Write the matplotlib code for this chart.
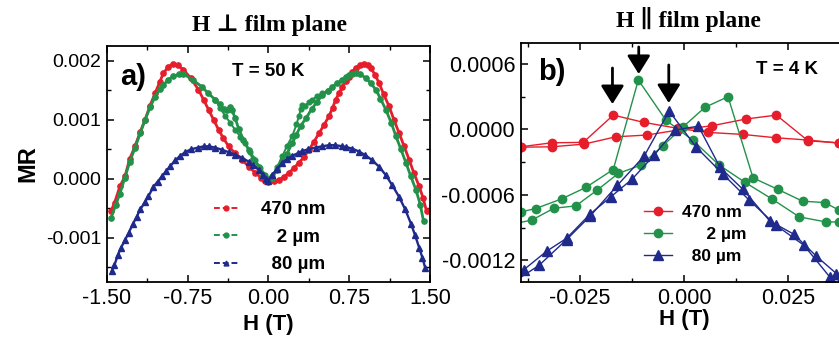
import matplotlib
matplotlib.use("Agg")
import matplotlib.pyplot as plt
from matplotlib.ticker import MultipleLocator, FormatStrFormatter

plt.rcParams["font.family"] = ["Liberation Sans", "DejaVu Sans"]
plt.rcParams["axes.unicode_minus"] = False

RED = "#e61e2c"
GREEN = "#22924a"
BLUE = "#1f2a8c"

# ---- panel a: H perpendicular, T = 50 K  (H in T, MR in units of 1e-3)
h_470 = [-1.463, -1.43, -1.38, -1.333, -1.29, -1.24, -1.19, -1.146, -1.10, -1.053,
         -1.01, -0.976, -0.93, -0.883, -0.84, -0.79, -0.72, -0.65, -0.60, -0.556,
         -0.51, -0.463, -0.42, -0.37, -0.31, -0.245, -0.18, -0.121, -0.07, -0.028,
         0.0, 0.05, 0.096, 0.14, 0.19, 0.235, 0.282, 0.33, 0.376, 0.42,
         0.469, 0.515, 0.562, 0.595, 0.624, 0.655, 0.687, 0.718, 0.748, 0.78,
         0.81, 0.85, 0.888, 0.92, 0.95, 0.99, 1.028, 1.07, 1.12, 1.165,
         1.214, 1.26, 1.307, 1.35, 1.40, 1.435, 1.468]
mr_470 = [-0.55, -0.41, -0.13, 0.04, 0.33, 0.55, 0.80, 1.00, 1.24, 1.45,
          1.64, 1.79, 1.90, 1.95, 1.92, 1.85, 1.70, 1.51, 1.33, 1.17,
          1.00, 0.83, 0.69, 0.55, 0.43, 0.32, 0.20, 0.10, 0.02, -0.04,
          -0.05, -0.04, -0.02, 0.03, 0.10, 0.18, 0.27, 0.37, 0.49, 0.62,
          0.77, 0.91, 1.06, 1.20, 1.34, 1.45, 1.56, 1.65, 1.72, 1.81,
          1.88, 1.93, 1.95, 1.93, 1.88, 1.76, 1.62, 1.43, 1.23, 1.00,
          0.77, 0.55, 0.32, 0.10, -0.13, -0.32, -0.55]

h_2um_a = [-1.463, -1.42, -1.38, -1.333, -1.29, -1.24, -1.19, -1.146, -1.10, -1.053,
           -1.01, -0.976, -0.93, -0.883, -0.83, -0.79, -0.70, -0.618, -0.56, -0.494,
           -0.45, -0.417, -0.385, -0.36, -0.34, -0.31, -0.277, -0.233, -0.184, -0.14,
           -0.09, -0.047, -0.012, 0.034, 0.08, 0.128, 0.17, 0.22, 0.26, 0.30,
           0.35, 0.40, 0.45, 0.50, 0.55, 0.594, 0.64, 0.687, 0.718, 0.748,
           0.78, 0.81, 0.85, 0.904, 0.95, 0.997, 1.04, 1.09, 1.14, 1.184,
           1.23, 1.277, 1.32, 1.37, 1.41, 1.44]
mr_2um_a = [-0.67, -0.45, -0.25, 0.02, 0.28, 0.52, 0.78, 1.00, 1.21, 1.39,
            1.52, 1.59, 1.68, 1.74, 1.77, 1.78, 1.67, 1.56, 1.45, 1.34,
            1.26, 1.19, 1.17, 1.21, 1.17, 1.03, 0.85, 0.66, 0.49, 0.33,
            0.20, 0.06, 0.00, 0.02, 0.15, 0.30, 0.42, 0.60, 0.75, 0.90,
            1.03, 1.18, 1.30, 1.42, 1.49, 1.56, 1.62, 1.68, 1.72, 1.76,
            1.78, 1.79, 1.77, 1.71, 1.62, 1.51, 1.36, 1.17, 0.95, 0.72,
            0.50, 0.27, 0.05, -0.19, -0.44, -0.72]

h_2um_b = [-0.494, -0.45, -0.40, -0.355, -0.31, -0.26, -0.214, -0.17, -0.121, -0.075,
           -0.028, 0.0, 0.034, 0.08, 0.128, 0.17, 0.22, 0.26, 0.282, 0.30,
           0.314, 0.34, 0.376, 0.407, 0.45, 0.50, 0.55]
mr_2um_b = [1.34, 1.20, 1.06, 0.95, 0.83, 0.71, 0.60, 0.46, 0.32, 0.18,
            0.07, 0.00, 0.04, 0.20, 0.38, 0.55, 0.72, 0.92, 1.06, 1.18,
            1.25, 1.24, 1.30, 1.34, 1.40, 1.45, 1.49]

h_80um = [-1.457, -1.432, -1.40, -1.37, -1.333, -1.30, -1.26, -1.224, -1.19, -1.15,
          -1.116, -1.07, -1.03, -0.99, -0.95, -0.91, -0.867, -0.82, -0.774, -0.72,
          -0.65, -0.60, -0.556, -0.50, -0.43, -0.37, -0.31, -0.25, -0.184, -0.14,
          -0.09, -0.05, -0.02, 0.0, 0.034, 0.08, 0.128, 0.17, 0.22, 0.27,
          0.314, 0.37, 0.438, 0.50, 0.562, 0.62, 0.687, 0.718, 0.78, 0.842,
          0.90, 0.966, 1.03, 1.09, 1.15, 1.214, 1.27, 1.323, 1.36, 1.40,
          1.43, 1.457]
mr_80um = [-1.57, -1.47, -1.30, -1.17, -1.04, -0.92, -0.77, -0.64, -0.52, -0.40,
           -0.30, -0.14, -0.05, 0.04, 0.13, 0.22, 0.31, 0.39, 0.45, 0.50,
           0.53, 0.55, 0.55, 0.53, 0.49, 0.45, 0.41, 0.36, 0.29, 0.23,
           0.15, 0.07, 0.00, -0.03, 0.06, 0.17, 0.27, 0.33, 0.39, 0.43,
           0.47, 0.50, 0.53, 0.55, 0.57, 0.57, 0.55, 0.54, 0.51, 0.46,
           0.40, 0.31, 0.20, 0.06, -0.11, -0.31, -0.52, -0.76, -0.95, -1.17,
           -1.34, -1.52]

# ---- panel b: H parallel, T = 4 K  (H in mT, MR in units of 1e-4)
h_470_dn = [37.1, 29.7, 22.0, 14.0, 5.75, -1.44, -9.66, -17.0, -24.2, -31.8, -39.2]
mr_470_dn = [-1.26, -0.98, -0.77, -0.46, -0.28, 0.09, 0.64, 1.31, -1.19, -1.23, -1.60]
h_470_up = [-39.2, -31.8, -24.0, -16.4, -9.0, -1.5, 6.6, 14.8, 22.1, 29.7, 37.1]
mr_470_up = [-1.63, -1.60, -1.35, -0.68, -0.52, -0.06, 0.33, 0.95, 1.31, -1.05, -1.23]

h_2um_up = [-41.5, -36.6, -31.2, -26.0, -20.9, -15.8, -10.4, -5.2, -0.24, 4.96,
            10.5, 16.5, 22.5, 28.4, 33.7, 37.1]
mr_2um_up = [-8.7, -8.33, -7.23, -7.02, -5.58, -4.04, -3.28, -1.53, 0.24, 2.02,
             3.0, -4.45, -5.51, -6.59, -6.71, -7.41]
h_2um_dn = [37.1, 34.0, 27.6, 21.1, 14.5, 8.4, 2.0, -4.4, -11.0, -17.0,
            -23.6, -29.4, -35.6, -39.2]
mr_2um_dn = [-8.49, -8.49, -8.03, -6.40, -4.84, -3.28, -0.98, 0.85, 4.53, -3.68,
             -5.33, -6.38, -7.26, -7.57]

h_80um_dn = [37.5, 34.9, 28.7, 22.0, 15.6, 9.3, 2.8, -3.6, -9.6, -16.0,
             -22.6, -28.2, -34.8, -40.5]
mr_80um_dn = [-13.9, -13.54, -10.63, -8.79, -6.50, -4.11, -1.60, 1.68, -2.45, -5.12,
              -7.97, -10.11, -12.47, -13.9]
h_80um_up = [-38.4, -33.0, -28.2, -22.6, -17.6, -12.5, -7.2, -2.2, 3.4, 8.6,
             14.1, 20.5, 26.3, 31.7, 36.5]
mr_80um_up = [-12.86, -11.18, -9.99, -7.78, -6.19, -4.57, -2.36, -0.06, 0.30, -3.49,
              -5.51, -8.40, -9.62, -11.64, -13.23]

# arrows above the peaks in b), H in mT
arrow_h = [-17.2, -10.9, -3.7]
arrow_top = [5.63, 7.56, 5.91]
arrow_tip = [2.32, 5.08, 2.42]


def style_axes(ax, xsize, ysize):
    for sp in ax.spines.values():
        sp.set_linewidth(1.3)
    ax.tick_params(which="both", direction="in", top=True, right=True, pad=4)
    ax.tick_params(axis="x", labelsize=xsize)
    ax.tick_params(axis="y", labelsize=ysize)
    ax.tick_params(which="major", length=5, width=1.1)
    ax.tick_params(which="minor", length=3, width=1.0)


fig = plt.figure(figsize=(8.39, 3.44), dpi=100)

# ---------------- panel a
ax1 = fig.add_axes([0.1275, 0.1802, 0.385, 0.686])
k = 1e-3
dash = (0, (3, 1.5))
ax1.plot(h_470, [v * k for v in mr_470], color=RED, lw=2.0, marker="o", ms=3.8,
         label="470 nm")
ax1.plot(h_2um_a, [v * k for v in mr_2um_a], color=GREEN, lw=2.0, marker="o", ms=3.8,
         label="   2 \u00b5m")
ax1.plot(h_2um_b, [v * k for v in mr_2um_b], color=GREEN, lw=1.4, marker="o", ms=3.4)
ax1.plot(h_80um, [v * k for v in mr_80um], color=BLUE, lw=1.7, marker="^", ms=3.8,
         label="  80 \u00b5m")

ax1.set_xlim(-1.5, 1.5)
ax1.set_ylim(-0.00175, 0.00225)
ax1.xaxis.set_major_locator(MultipleLocator(0.75))
ax1.xaxis.set_minor_locator(MultipleLocator(0.375))
ax1.yaxis.set_major_locator(MultipleLocator(0.001))
ax1.yaxis.set_minor_locator(MultipleLocator(0.0005))
ax1.xaxis.set_major_formatter(FormatStrFormatter("%.2f"))
ax1.yaxis.set_major_formatter(FormatStrFormatter("%.3f"))
style_axes(ax1, 15.5, 14)
ax1.set_xlabel("H (T)", fontsize=16, fontweight="bold", labelpad=4)
ax1.set_ylabel("MR", fontsize=17, fontweight="bold", labelpad=5)
ax1.text(0.04, 0.87, "a)", transform=ax1.transAxes, fontsize=21, fontweight="bold",
         ha="left", va="center")
ax1.text(0.50, 0.89, "T = 50 K", transform=ax1.transAxes, fontsize=13.5,
         fontweight="bold", ha="center", va="center")
leg1 = ax1.legend(loc="center left", bbox_to_anchor=(0.28, 0.19), frameon=False,
                  handlelength=1.3, handletextpad=1.2, labelspacing=0.55,
                  prop={"weight": "bold", "size": 13.5})
for ln in leg1.get_lines():
    ln.set_linestyle(dash)
    ln.set_linewidth(1.4)
    ln.set_markersize(3.5)

# ---------------- panel b
ax2 = fig.add_axes([0.6206, 0.1802, 0.3898, 0.695])
k = 1e-4
m = 1e-3
ax2.plot([v * m for v in h_470_dn], [v * k for v in mr_470_dn], color=RED, lw=1.0,
         marker="o", ms=6, label="470 nm")
ax2.plot([v * m for v in h_470_up], [v * k for v in mr_470_up], color=RED, lw=1.0,
         marker="o", ms=6)
ax2.plot([v * m for v in h_2um_dn], [v * k for v in mr_2um_dn], color=GREEN, lw=1.0,
         marker="o", ms=6, label="     2 \u00b5m")
ax2.plot([v * m for v in h_2um_up], [v * k for v in mr_2um_up], color=GREEN, lw=1.0,
         marker="o", ms=6)
ax2.plot([v * m for v in h_80um_dn], [v * k for v in mr_80um_dn], color=BLUE, lw=1.0,
         marker="^", ms=7, label="  80 \u00b5m")
ax2.plot([v * m for v in h_80um_up], [v * k for v in mr_80um_up], color=BLUE, lw=1.0,
         marker="^", ms=7)

for h, y0, y1 in zip(arrow_h, arrow_top, arrow_tip):
    ax2.annotate("", xy=(h * m, y1 * k), xytext=(h * m, y0 * k),
                 arrowprops=dict(arrowstyle="-|>,head_width=0.5,head_length=0.8",
                                 color="black", lw=2.0, mutation_scale=14,
                                 shrinkA=0, shrinkB=0))

ax2.set_xlim(-0.0392, 0.0392)
ax2.set_ylim(-0.0014, 0.000793)
ax2.xaxis.set_major_locator(MultipleLocator(0.025))
ax2.xaxis.set_minor_locator(MultipleLocator(0.0125))
ax2.yaxis.set_major_locator(MultipleLocator(0.0006))
ax2.yaxis.set_minor_locator(MultipleLocator(0.0003))
ax2.xaxis.set_major_formatter(FormatStrFormatter("%.3f"))
ax2.yaxis.set_major_formatter(FormatStrFormatter("%.4f"))
style_axes(ax2, 15.5, 15.5)
ax2.set_xlabel("H (T)", fontsize=16, fontweight="bold", labelpad=0)
ax2.text(0.053, 0.879, "b)", transform=ax2.transAxes, fontsize=21, fontweight="bold",
         ha="left", va="center")
ax2.text(0.72, 0.887, "T = 4 K", transform=ax2.transAxes, fontsize=13.5,
         fontweight="bold", ha="left", va="center")
ax2.legend(loc="center left", bbox_to_anchor=(0.33, 0.2), frameon=False,
           handlelength=1.6, handletextpad=0.6, labelspacing=0.4,
           prop={"weight": "bold", "size": 12.5})

serif = ["Liberation Serif", "DejaVu Serif"]
fig.text(270 / 839, 1 - 25 / 344, "H \u22a5 film plane", family=serif, fontsize=17,
         fontweight="bold", ha="center", va="center")
fig.text(688 / 839, 1 - 20 / 344, "H \u2225 film plane", family=serif, fontsize=17,
         fontweight="bold", ha="center", va="center")

fig.savefig("out.png", dpi=100)
